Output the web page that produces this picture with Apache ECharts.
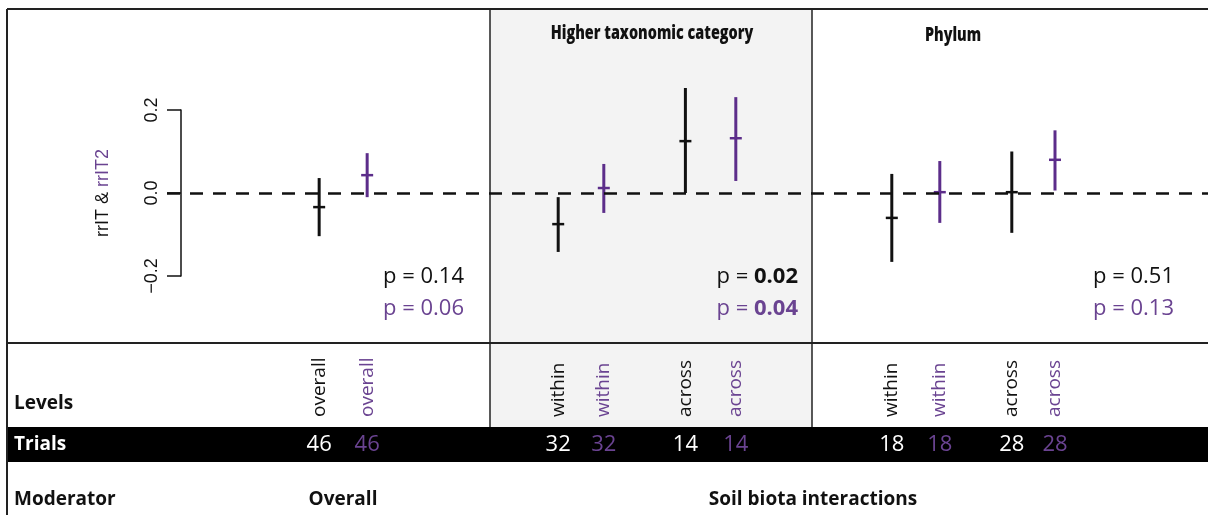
<!DOCTYPE html>
<html>
<head>
<meta charset="utf-8">
<script src="https://cdn.jsdelivr.net/npm/echarts@6/dist/echarts.min.js"></script>
<style>
html,body{margin:0;padding:0;background:#fff;}
#chart{width:1208px;height:515px;}
</style>
</head>
<body>
<div id="chart"></div>
<script>
// ---- data ----
var levels = ['overall', 'within', 'across', 'within', 'across'];
var trials = [46, 32, 14, 18, 28];
var xBlack = [3.17, 8.15, 10.8, 15.1, 17.6];
var xPurple = [4.17, 9.1, 11.85, 16.1, 18.5];
var meanBlack = [-0.034, -0.075, 0.125, -0.06, 0.002];
var lowBlack = [-0.104, -0.142, 0.0, -0.166, -0.096];
var highBlack = [0.036, -0.01, 0.253, 0.046, 0.1];
var meanPurple = [0.043, 0.012, 0.132, 0.002, 0.08];
var lowPurple = [-0.01, -0.048, 0.029, -0.072, 0.006];
var highPurple = [0.096, 0.07, 0.231, 0.077, 0.151];
var pBlack = ['0.14', '0.02', '0.51'];
var pPurple = ['0.06', '0.04', '0.13'];
var pBold = [false, true, false];
var panelTitles = ['', 'Higher taxonomic category', 'Phylum'];

var BLACK = '#111111';
var PURPLE = '#5c2d8a';
var PURPLE_TXT = '#6a4391';
var FONT = '"Open Sans", "Noto Sans", sans-serif';
var RFONT = '"Liberation Sans", Arial, sans-serif';

function buildData(xs, lows, highs, means) {
  return xs.map(function (x, i) { return [x, lows[i], highs[i], means[i], trials[i], i]; });
}

function makeRender(lineColor, textColor, trialColor) {
  return function (params, api) {
    var x = api.value(0);
    var pLow = api.coord([x, api.value(1)]);
    var pHigh = api.coord([x, api.value(2)]);
    var pMean = api.coord([x, api.value(3)]);
    var idx = api.value(5);
    return {
      type: 'group',
      children: [
        { type: 'line', shape: { x1: pLow[0], y1: pLow[1], x2: pHigh[0], y2: pHigh[1] },
          style: { stroke: lineColor, lineWidth: 3 } },
        { type: 'line', shape: { x1: pMean[0] - 6, y1: pMean[1], x2: pMean[0] + 6, y2: pMean[1] },
          style: { stroke: lineColor, lineWidth: 2.5 } },
        { type: 'text', x: pMean[0], y: 417, rotation: Math.PI / 2,
          style: { text: levels[idx], fill: textColor, font: '19px ' + FONT, align: 'left', verticalAlign: 'middle' } },
        { type: 'text', x: pMean[0], y: 445,
          style: { text: String(api.value(4)), fill: trialColor, font: '22px ' + FONT, align: 'center', verticalAlign: 'middle' } }
      ]
    };
  };
}

var pRight = [464, 798, 1174];
var titleCenters = [0, 652, 953];
var titleY = [0, 33, 35];

var graphics = [
  { type: 'rect', z: 0, shape: { x: 490, y: 9, width: 322, height: 418 }, style: { fill: '#f3f3f3' } },
  { type: 'rect', z: 0, shape: { x: 7, y: 427, width: 1201, height: 35 }, style: { fill: '#000' } },
  { type: 'line', z: 1, shape: { x1: 7, y1: 9, x2: 1208, y2: 9 }, style: { stroke: '#222', lineWidth: 2 } },
  { type: 'line', z: 1, shape: { x1: 7, y1: 9, x2: 7, y2: 515 }, style: { stroke: '#222', lineWidth: 2 } },
  { type: 'line', z: 1, shape: { x1: 7, y1: 343, x2: 1208, y2: 343 }, style: { stroke: '#222', lineWidth: 2 } },
  { type: 'line', z: 1, shape: { x1: 490, y1: 9, x2: 490, y2: 427 }, style: { stroke: '#222', lineWidth: 1.5 } },
  { type: 'line', z: 1, shape: { x1: 812, y1: 9, x2: 812, y2: 427 }, style: { stroke: '#222', lineWidth: 1.5 } },
  { type: 'text', z: 5, x: 14, y: 404, style: { text: 'Levels', fill: BLACK, font: 'bold 19px ' + FONT, verticalAlign: 'middle' } },
  { type: 'text', z: 5, x: 14, y: 445, style: { text: 'Trials', fill: '#fff', font: 'bold 19px ' + FONT, verticalAlign: 'middle' } },
  { type: 'text', z: 5, x: 14, y: 500, style: { text: 'Moderator', fill: BLACK, font: 'bold 19px ' + FONT, verticalAlign: 'middle' } },
  { type: 'text', z: 5, x: 343, y: 500, style: { text: 'Overall', fill: BLACK, font: 'bold 19px ' + FONT, align: 'center', verticalAlign: 'middle' } },
  { type: 'text', z: 5, x: 813, y: 500, style: { text: 'Soil biota interactions', fill: BLACK, font: 'bold 19px ' + FONT, align: 'center', verticalAlign: 'middle' } }
];
panelTitles.forEach(function (t, i) {
  if (!t) return;
  graphics.push({ type: 'text', z: 5, x: titleCenters[i], y: titleY[i], scaleX: 0.72,
    style: { text: t, fill: BLACK, font: '800 20px ' + FONT, align: 'center', verticalAlign: 'middle' } });
});
pBlack.forEach(function (p, i) {
  var w = pBold[i] ? 'bold' : 'normal';
  graphics.push({ type: 'text', z: 5, x: pRight[i], y: 277,
    style: { text: '{n|p = }{v|' + p + '}', align: 'right', verticalAlign: 'middle', fill: BLACK,
      rich: { n: { fill: BLACK, font: '22px ' + FONT }, v: { fill: BLACK, font: w + ' 22px ' + FONT } } } });
  graphics.push({ type: 'text', z: 5, x: pRight[i], y: 309,
    style: { text: '{n|p = }{v|' + pPurple[i] + '}', align: 'right', verticalAlign: 'middle', fill: PURPLE_TXT,
      rich: { n: { fill: PURPLE_TXT, font: '22px ' + FONT }, v: { fill: PURPLE_TXT, font: w + ' 22px ' + FONT } } } });
});

var chart = echarts.init(document.getElementById('chart'), null, { renderer: 'canvas' });
chart.setOption({
  animation: false,
  backgroundColor: '#fff',
  grid: { left: 167, right: 0, top: 110, bottom: 239, containLabel: false },
  xAxis: { type: 'value', min: 0, max: 1041 / 48, show: false },
  yAxis: {
    type: 'value', min: -0.2, max: 0.2, interval: 0.2, offset: -14,
    axisLine: { show: true, lineStyle: { color: BLACK, width: 1.5 } },
    axisTick: { show: true, length: 14, inside: false, lineStyle: { color: BLACK, width: 1.5 } },
    splitLine: { show: false },
    axisLabel: { rotate: 90, margin: 20, fontSize: 18, fontFamily: RFONT, color: BLACK,
      formatter: function (v) { return (Math.abs(v) < 1e-9 ? '0.0' : v.toFixed(1)).replace('-', '\u2212'); } },
    name: '{a|rrIT & }{b|rrIT2}', nameLocation: 'middle', nameRotate: 90, nameGap: 69,
    nameTextStyle: { fontSize: 18, fontFamily: RFONT, rich: { a: { color: BLACK, fontSize: 18, fontFamily: RFONT }, b: { color: PURPLE_TXT, fontSize: 18, fontFamily: RFONT } } }
  },
  graphic: graphics,
  series: [
    { type: 'custom', name: 'rrIT', z: 3, renderItem: makeRender(BLACK, BLACK, '#ffffff'),
      data: buildData(xBlack, lowBlack, highBlack, meanBlack),
      markLine: { silent: true, symbol: 'none', label: { show: false },
        lineStyle: { color: BLACK, type: [13, 10], width: 2.5 }, data: [{ yAxis: 0 }] } },
    { type: 'custom', name: 'rrIT2', z: 3, renderItem: makeRender(PURPLE, PURPLE_TXT, PURPLE_TXT),
      data: buildData(xPurple, lowPurple, highPurple, meanPurple) }
  ]
});
</script>
</body>
</html>
